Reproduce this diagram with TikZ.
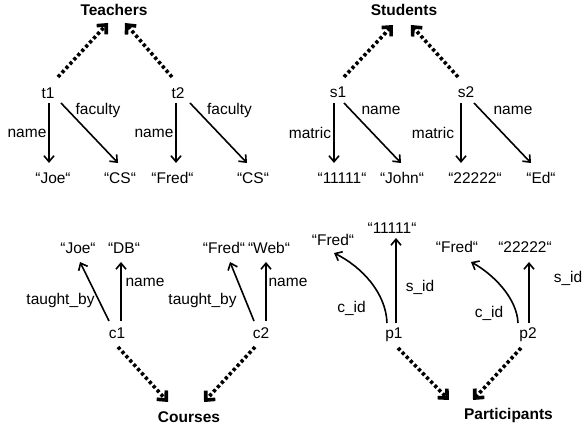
\documentclass[tikz,border=0pt]{standalone}
\usepackage{fontspec}
\setmainfont{Liberation Sans}
\usetikzlibrary{arrows.meta,calc}
\begin{document}
\begin{tikzpicture}[x=1pt,y=-1pt,
  every node/.style={inner sep=0pt,font=\fontsize{15.5}{18}\selectfont},
  title/.style={font=\fontsize{15.5}{18}\selectfont\bfseries},
  rel/.style={line width=1.6pt,-{Straight Barb[length=6pt,width=10pt]}},
  inst/.style={line width=3.6pt,dash pattern=on 3.2pt off 2.6pt,-{Straight Barb[length=7pt,width=13pt,line width=3.6pt]}}]
\useasboundingbox (0,0) rectangle (582,430);
% ---------- Teachers ----------
\node[title] (teachers) at (114,10) {Teachers};
\node (t1) at (48,93) {t1};
\node (t2) at (178,93) {t2};
\node (joe1) at (53,178) {“Joe“};
\node (cs1) at (120,178) {“CS“};
\node (fred1) at (172.5,178) {“Fred“};
\node (cs2) at (253,178) {“CS“};
\node (lname1) at (27,133) {name};
\node (lfac1) at (98,110) {faculty};
\node (lname2) at (154,133) {name};
\node (lfac2) at (229.5,110) {faculty};
\draw[inst] ([shift={(10,-16)}]t1.center) -- ([shift={(-6,13)}]teachers.center);
\draw[inst] ([shift={(-6,-16)}]t2.center) -- ([shift={(11,13)}]teachers.center);
\draw[rel] ([shift={(1,10)}]t1.center) -- ([shift={(-4,-15)}]joe1.center);
\draw[rel] ([shift={(13,10)}]t1.center) -- ([shift={(-2,-15)}]cs1.center);
\draw[rel] ([shift={(-2,10)}]t2.center) -- ([shift={(3.5,-15)}]fred1.center);
\draw[rel] ([shift={(12,10)}]t2.center) -- ([shift={(-6,-15)}]cs2.center);
% ---------- Students ----------
\node[title] (students) at (404,10) {Students};
\node (s1) at (338,92) {s1};
\node (s2) at (466,92) {s2};
\node (m1) at (342,178) {“11111“};
\node (john) at (402,178) {“John“};
\node (m2) at (475,178) {“22222“};
\node (ed) at (541,178) {“Ed“};
\node (lmat1) at (310,133) {matric};
\node (lname3) at (381,110) {name};
\node (lmat2) at (433,133) {matric};
\node (lname4) at (513,110) {name};
\draw[inst] ([shift={(6,-15)}]s1.center) -- ([shift={(-11,15)}]students.center);
\draw[inst] ([shift={(-8,-15)}]s2.center) -- ([shift={(7,15)}]students.center);
\draw[rel] ([shift={(-4,11)}]s1.center) -- ([shift={(-8,-15)}]m1.center);
\draw[rel] ([shift={(6,11)}]s1.center) -- ([shift={(-1,-15)}]john.center);
\draw[rel] ([shift={(-5,11)}]s2.center) -- ([shift={(-14,-15)}]m2.center);
\draw[rel] ([shift={(8,11)}]s2.center) -- ([shift={(-10,-15)}]ed.center);
% ---------- Courses ----------
\node[title] (courses) at (189,417) {Courses};
\node (c1) at (117,333) {c1};
\node (c2) at (261,333) {c2};
\node (joe2) at (78,248) {“Joe“};
\node (db) at (124,248) {“DB“};
\node (fred2) at (224,248) {“Fred“};
\node (web) at (269,248) {“Web“};
\node (ltb1) at (60.5,300) {taught\_by};
\node (lname5) at (145,282) {name};
\node (ltb2) at (202.5,300) {taught\_by};
\node (lname6) at (288,282) {name};
\draw[rel] ([shift={(-8,-12)}]c1.center) -- ([shift={(2,14)}]joe2.center);
\draw[rel] ([shift={(4,-12)}]c1.center) -- ([shift={(-3,14)}]db.center);
\draw[rel] ([shift={(-7,-12)}]c2.center) -- ([shift={(6,14)}]fred2.center);
\draw[rel] ([shift={(5,-12)}]c2.center) -- ([shift={(-3,14)}]web.center);
\draw[inst] ([shift={(1,14)}]c1.center) -- ([shift={(-21,-15)}]courses.center);
\draw[inst] ([shift={(-6,14)}]c2.center) -- ([shift={(15,-15)}]courses.center);
% ---------- Participants ----------
\node[title] (participants) at (508.5,415) {Participants};
\node (p1) at (394,335) {p1};
\node (p2) at (528,335) {p2};
\node (m3) at (392,228) {“11111“};
\node (fred3) at (333,240) {“Fred“};
\node (fred4) at (457,247) {“Fred“};
\node (m4) at (525,247) {“22222“};
\node (lsid1) at (420,287) {s\_id};
\node (lcid1) at (351.5,308) {c\_id};
\node (lcid2) at (489,313) {c\_id};
\node (lsid2) at (568,278) {s\_id};
\draw[rel] ([shift={(-7,-12)}]p1.center) .. controls +(-1,-30) and +(28,14) .. ([shift={(1,13)}]fred3.center);
\draw[rel] ([shift={(2,-12)}]p1.center) -- ([shift={(4,10)}]m3.center);
\draw[rel] ([shift={(-10,-12)}]p2.center) .. controls +(-1,-25) and +(22,12) .. ([shift={(14,15)}]fred4.center);
\draw[rel] ([shift={(1,-12)}]p2.center) -- ([shift={(4,15)}]m4.center);
\draw[inst] ([shift={(4,13)}]p1.center) -- ([shift={(-59.5,-15)}]participants.center);
\draw[inst] ([shift={(-7,13)}]p2.center) -- ([shift={(-35.5,-15)}]participants.center);
\end{tikzpicture}
\end{document}
